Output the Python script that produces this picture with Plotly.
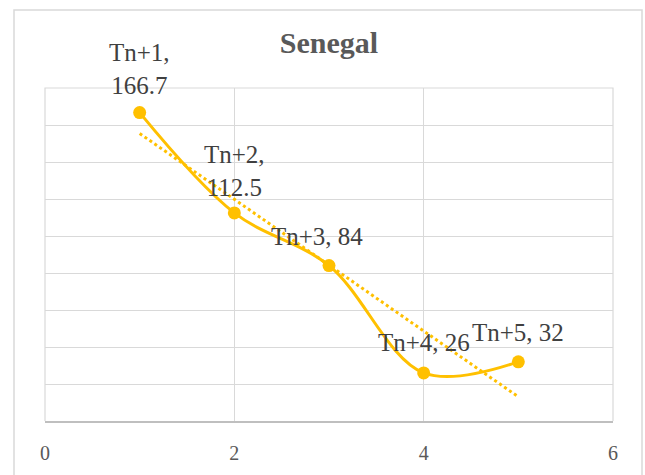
import plotly.graph_objects as go
import numpy as np

x_vals = [1, 2, 3, 4, 5]
y_vals = [166.7, 112.5, 84, 26, 32]
labels = ["Tn+1,<br>166.7", "Tn+2,<br>112.5", "Tn+3, 84", "Tn+4, 26", "Tn+5, 32"]
label_yshift = [44, 42, 29, 30, 29]
label_xshift = [0, 0, -12, 0, 0]
x_ticks = [0, 2, 4, 6]

GOLD = "#FFC000"
SERIF = "Liberation Serif"

# linear trendline (least squares) from the data
slope, intercept = np.polyfit(x_vals, y_vals, 1)
trend_x = [x_vals[0], x_vals[-1]]
trend_y = [slope * v + intercept for v in trend_x]

fig = go.Figure()
fig.add_trace(go.Scatter(x=trend_x, y=trend_y, mode="lines",
                         line=dict(color=GOLD, width=3, dash="dot"),
                         hoverinfo="skip", showlegend=False))
fig.add_trace(go.Scatter(x=x_vals, y=y_vals, mode="lines+markers",
                         line=dict(color=GOLD, width=3, shape="spline", smoothing=1),
                         marker=dict(color=GOLD, size=13),
                         showlegend=False))

for xv, yv, t, ys, xs in zip(x_vals, y_vals, labels, label_yshift, label_xshift):
    fig.add_annotation(x=xv, y=yv, text=t, showarrow=False, yshift=ys, xshift=xs,
                       xanchor="center", yanchor="middle",
                       font=dict(family=SERIF, size=25, color="#404040"))

fig.update_layout(
    width=645, height=475,
    margin=dict(l=45, r=32, t=88, b=54, autoexpand=False),
    paper_bgcolor="white", plot_bgcolor="white",
    title=dict(text="<b>Senegal</b>", x=0.5, xref="paper", y=0.91, yanchor="middle",
               font=dict(family=SERIF, size=30, color="#595959")),
    xaxis=dict(range=[0, 6], tickvals=x_ticks, showgrid=True, gridcolor="#d9d9d9",
               gridwidth=1, zeroline=False, showline=True, linecolor="#bfbfbf",
               linewidth=1.5, ticks="", ticklabelstandoff=13, automargin=False,
               tickfont=dict(family=SERIF, size=20, color="#595959")),
    yaxis=dict(range=[0, 180], dtick=20, showgrid=True, gridcolor="#d9d9d9",
               gridwidth=1, zeroline=False, showticklabels=False, automargin=False),
)

# plot-area frame (left, top, right)
fig.add_shape(type="path", xref="paper", yref="paper",
              path="M 0 0 L 0 1 L 1 1 L 1 0",
              line=dict(color="#d9d9d9", width=1.2), layer="below")

# outer chart border
fig.add_shape(type="rect", xref="paper", yref="paper",
              x0=(14 - 45) / 568, x1=(642 - 45) / 568,
              y0=(421 - 490) / 333, y1=(421 - 10) / 333,
              line=dict(color="#d9d9d9", width=1.5), fillcolor="rgba(0,0,0,0)",
              layer="below")

fig.write_html("out.html")
